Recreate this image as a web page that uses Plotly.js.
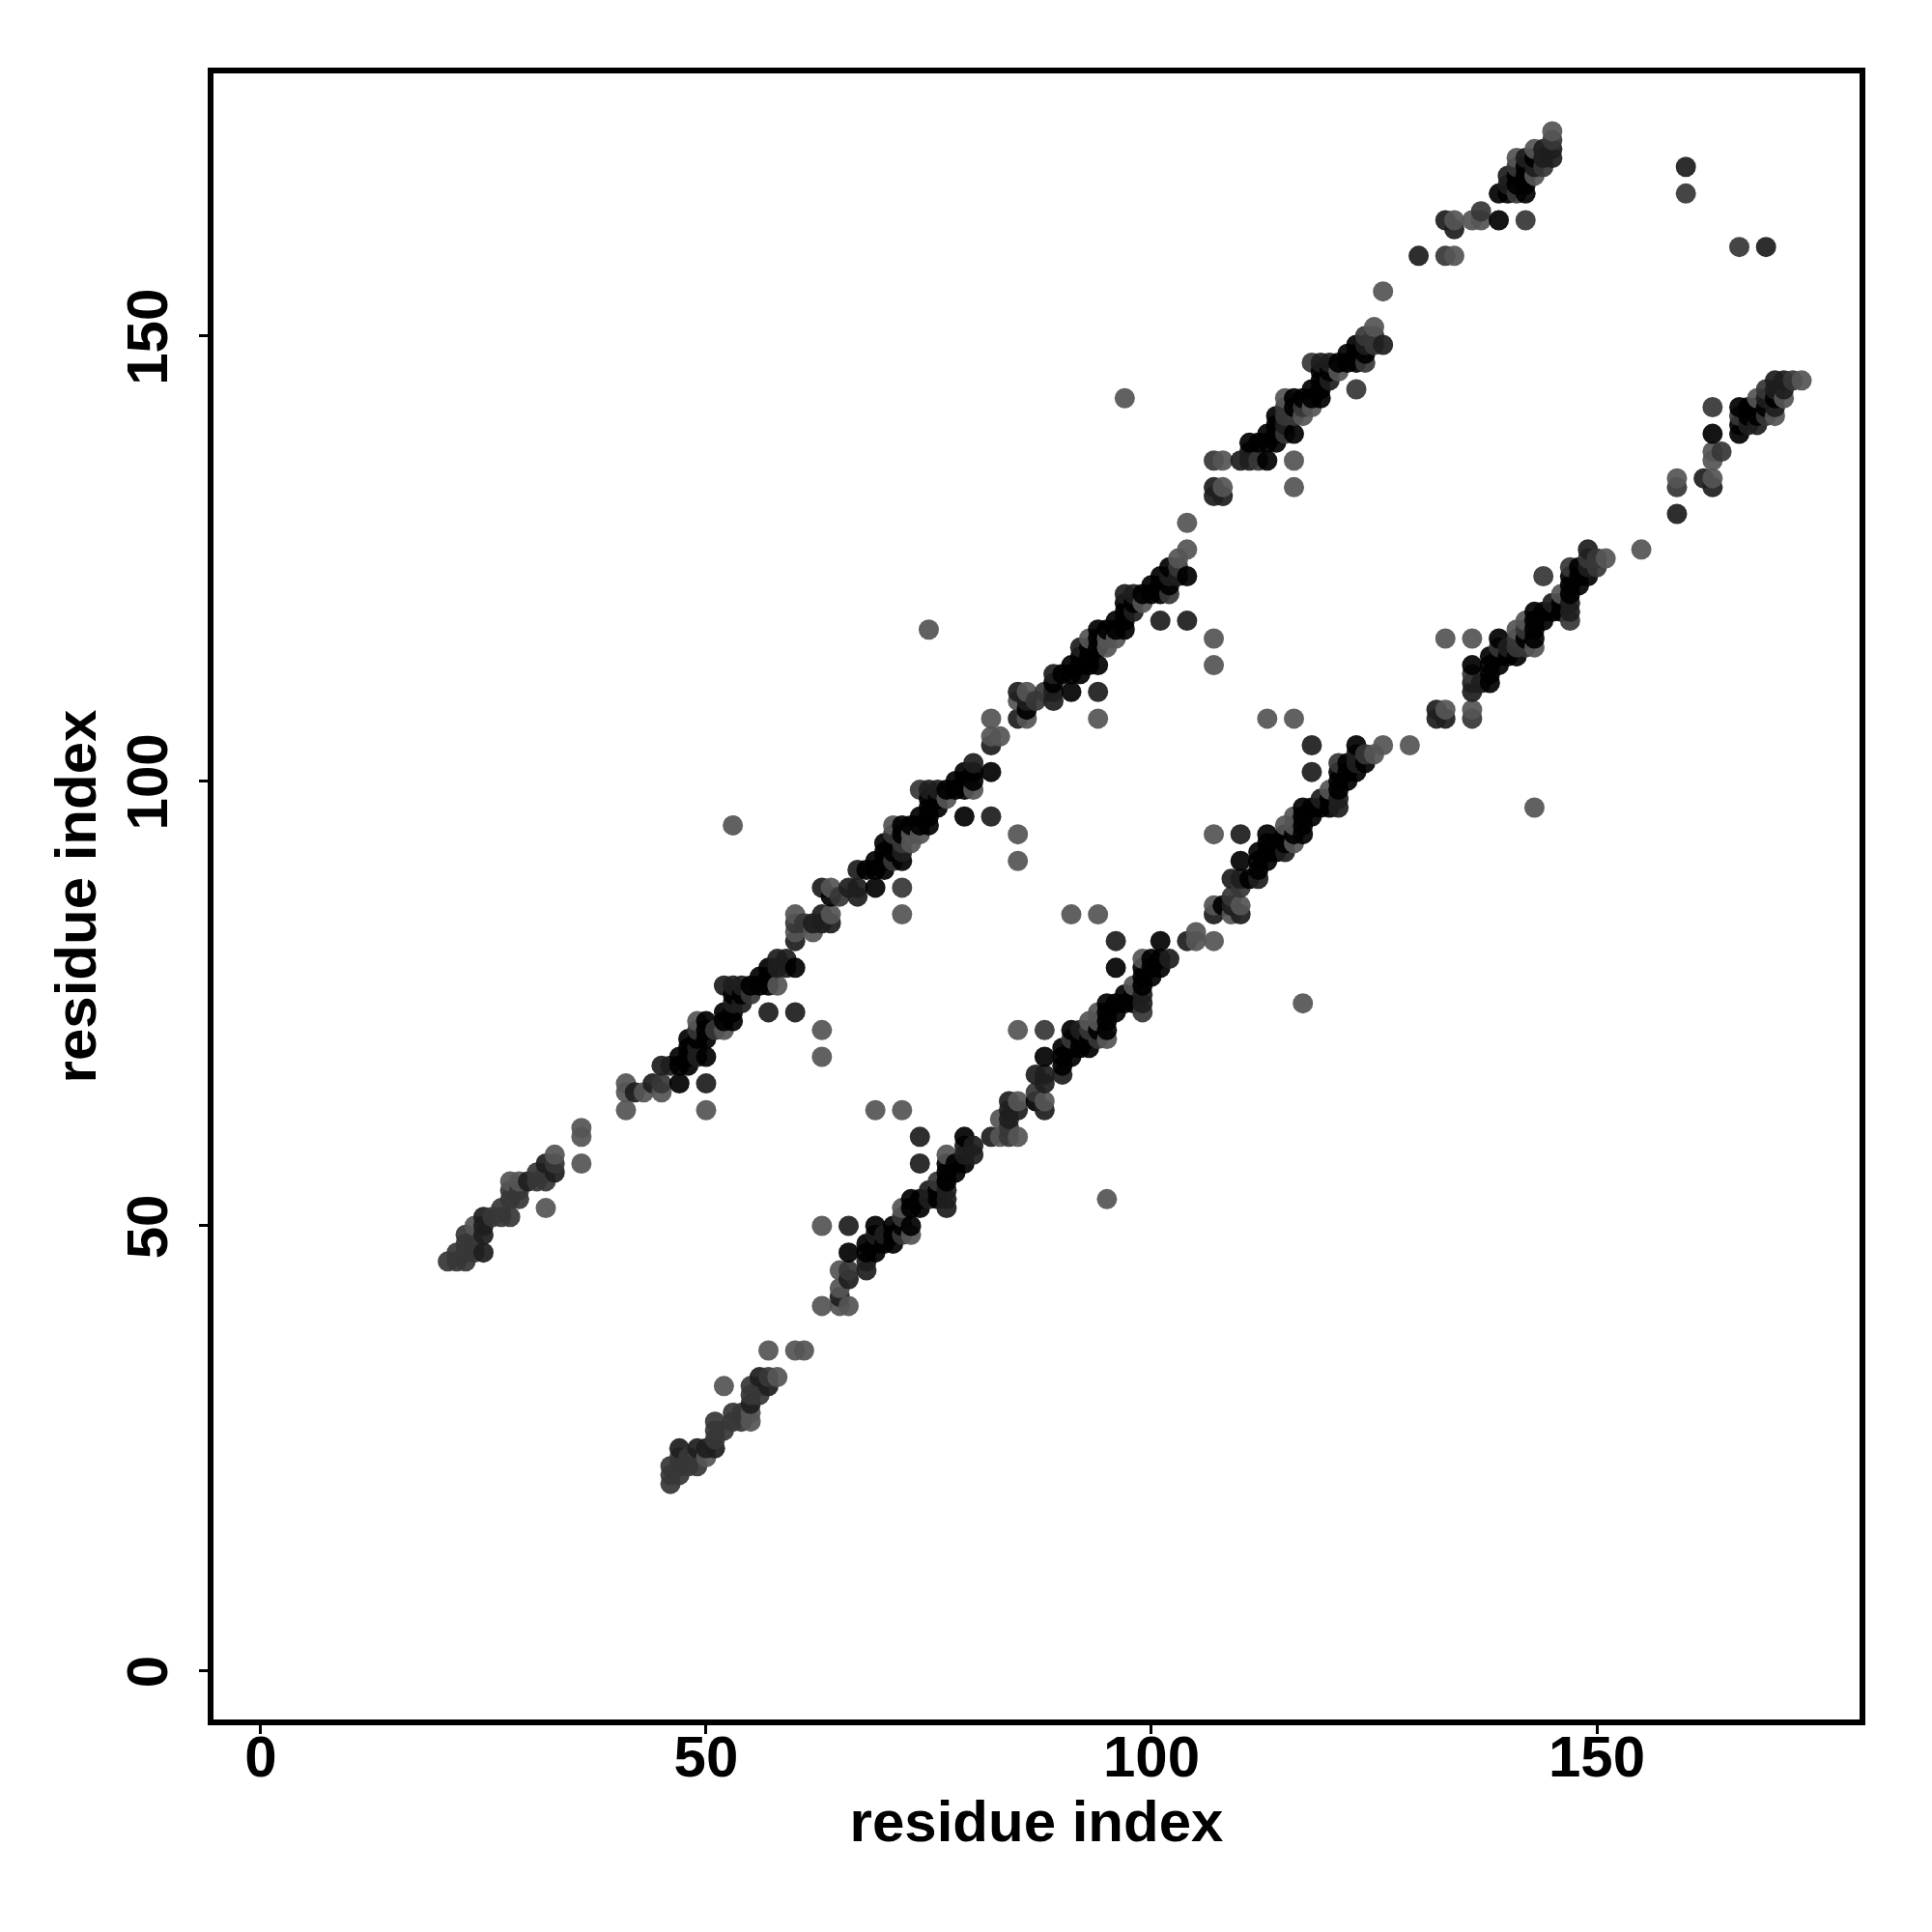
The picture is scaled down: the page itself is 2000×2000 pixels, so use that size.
<!DOCTYPE html>
<html>
<head>
<meta charset="utf-8">
<script src="https://cdn.plot.ly/plotly-3.0.1.min.js"></script>
<style>html,body{margin:0;padding:0;background:#fff}</style>
</head>
<body>
<div id="chart" style="width:2000px;height:2000px"></div>
<script>
const lightI = [24,28,29,33,32,36,36,36,41,41,
  41,43,45,49,50,52,58,63,63,60,
  60,62,64,64,73,73,74,71,72,77,
  80,85,85,82,83,82,86,85,86,94,
  93,95,95,96,75,99,103,104,104,107,
  107,108,108,116,116,117,118,115,121,125,
  126,97,134,134,136,137,143,141,143,145,
  53];
const lightJ = [50,55,55,58,52,57,60,61,63,65,
  66,65,65,73,63,72,77,72,69,83,
  85,83,85,88,93,94,94,95,85,98,
  99,94,91,105,105,107,107,109,110,107,
  116,115,116,116,117,120,125,126,129,116,
  113,136,133,136,133,141,142,143,146,151,
  155,143,159,163,163,163,168,170,171,173,
  95];
const midI = [21,22,23,22,23,24,23,24,23,26,
  27,28,27,28,29,28,29,31,32,31,
  32,33,45,49,51,55,60,61,65,71,
  72,71,72,74,87,88,103,102,107,112,
  115,115,116,115,117,118,124,125,124,125,
  123,133,137,142,141,144,145,160,141];
const midJ = [46,46,46,47,47,47,48,48,49,51,
  51,51,52,53,53,54,54,55,55,56,
  56,57,66,72,72,76,84,84,87,91,
  93,94,88,99,109,110,124,121,136,136,
  139,141,141,142,142,147,147,149,150,150,
  144,159,164,163,169,169,172,166,166];
const darkI = [25,25,25,25,30,33,32,42,44,45,
  46,49,49,50,52,53,54,53,54,58,
  59,58,59,57,60,60,62,63,64,63,
  63,66,67,67,67,72,75,76,80,82,
  82,85,85,86,89,89,89,94,92,97,
  98,98,102,103,101,104,107,107,108,110,
  111,111,115,119,120,120,124,126,130,133,
  134,140,140,142,144,145,144,145,143,160];
const darkJ = [47,49,50,51,55,56,57,65,66,68,
  68,69,70,66,77,77,77,75,75,79,
  79,80,80,74,74,82,84,84,84,85,
  88,88,87,88,90,92,99,99,102,96,
  104,107,110,109,109,110,112,110,115,121,
  121,119,123,123,118,118,133,132,132,136,
  136,137,140,147,147,145,149,149,159,163,
  162,167,168,170,170,170,171,171,169,169];
const blackI = [47,47,47,48,48,48,48,49,50,50,
  50,50,52,52,53,53,53,54,55,56,
  57,56,57,57,60,64,68,69,70,69,
  70,72,70,71,70,71,72,72,73,74,
  75,69,74,75,75,76,75,76,77,78,
  79,78,79,80,79,80,82,79,86,89,
  90,91,92,91,92,93,94,91,92,93,
  93,94,94,94,95,96,97,96,97,97,
  97,98,99,100,101,100,101,102,101,104,
  102,111,112,113,113,114,113,114,116,114,
  114,116,116,117,118,119,118,119,119,119,
  120,121,122,123,122,123,124,123,139,139,
  140,142,141,142,141,142,142,143];
const blackJ = [66,68,69,68,69,70,71,71,69,71,
  72,73,73,74,73,74,76,76,77,77,
  77,78,78,79,79,87,90,90,90,91,
  91,91,92,92,93,93,94,95,95,95,
  95,88,96,96,97,97,98,98,99,99,
  99,100,100,100,101,101,101,96,108,111,
  112,112,112,113,113,113,113,110,114,114,
  115,115,116,117,117,117,117,118,118,119,
  120,120,121,121,121,122,122,122,123,123,
  124,138,138,136,138,138,139,139,139,140,
  141,142,143,143,143,143,144,144,145,146,
  146,147,147,147,148,148,148,149,163,166,
  166,166,167,167,168,168,169,170];
const tickValues = [0,50,100,150];
const tickLabels = ["0","50","100","150"];
const axisTitle = "residue index";

const groups = [
  [lightI, lightJ, "rgba(85,85,85,0.93)"],
  [midI, midJ, "rgba(55,55,55,0.93)"],
  [darkI, darkJ, "rgba(30,30,30,0.93)"],
  [blackI, blackJ, "rgba(0,0,0,0.92)"]
];
// A contact map is symmetric: each contact (i, j) is also drawn as (j, i).
const dots = [];
groups.forEach(([is, js, color]) => {
  is.forEach((v, k) => {
    dots.push({x: v, y: js[k], c: color});
    dots.push({x: js[k], y: v, c: color});
  });
});
dots.sort((a, b) => a.x - b.x || a.y - b.y);

const axisFont = {family: "'Liberation Sans', Arial, sans-serif", size: 60, color: "#000", weight: 700};
const baseAxis = {
  showline: true, mirror: true, linewidth: 6, linecolor: "#000",
  ticks: "outside", ticklen: 9, tickwidth: 3, tickcolor: "#000",
  tickmode: "array", tickvals: tickValues, ticktext: tickLabels,
  tickfont: axisFont, showgrid: false, zeroline: false
};
const layout = {
  width: 2000, height: 2000,
  margin: {l: 221, r: 75, t: 76, b: 220, pad: 0},
  paper_bgcolor: "#fff", plot_bgcolor: "#fff", showlegend: false,
  xaxis: Object.assign({}, baseAxis, {range: [-5.31, 179.5], ticklabelstandoff: -28,
    title: {text: axisTitle, font: axisFont, standoff: 11}}),
  yaxis: Object.assign({}, baseAxis, {range: [-5.47, 179.5], tickangle: -90, ticklabelstandoff: 9, ticklabelshift: 10,
    title: {text: axisTitle, font: axisFont, standoff: 2}})
};
Plotly.newPlot("chart", [{
  type: "scatter", mode: "markers",
  x: dots.map(d => d.x), y: dots.map(d => d.y),
  marker: {size: 21, color: dots.map(d => d.c), line: {width: 0}},
  hoverinfo: "skip", cliponaxis: true
}], layout, {staticPlot: true, displayModeBar: false});
</script>
</body>
</html>
